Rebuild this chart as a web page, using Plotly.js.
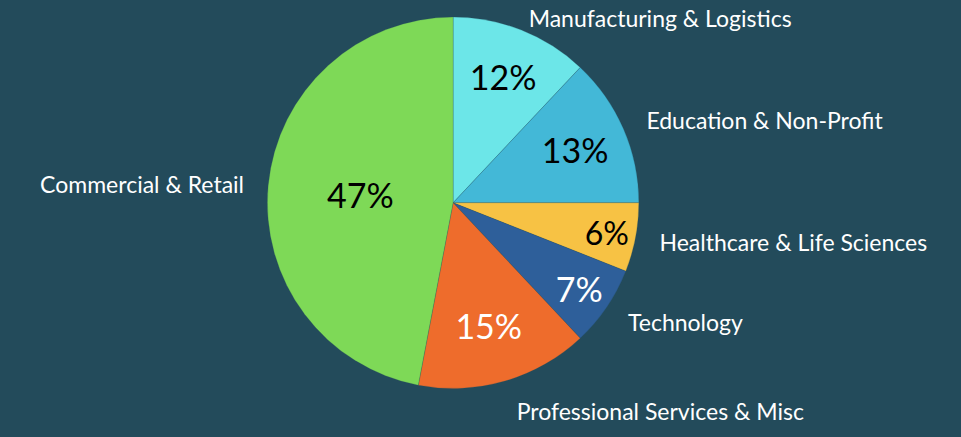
<!DOCTYPE html>
<html>
<head>
<meta charset="utf-8">
<script src="https://cdn.plot.ly/plotly-3.0.1.min.js"></script>
<style>html,body{margin:0;padding:0;background:#234B5B;}#chart{width:961px;height:437px;}</style>
</head>
<body>
<div id="chart"></div>
<script>
const categories = ["Manufacturing & Logistics", "Education & Non-Profit", "Healthcare & Life Sciences", "Technology", "Professional Services & Misc", "Commercial & Retail"];
const shares = [12, 13, 6, 7, 15, 47];
const sliceColors = ["#6CE6E8", "#43B8D7", "#F7C244", "#2E5F9A", "#EE6C2C", "#7ED957"];
const pctTextColors = ["#000000", "#000000", "#000000", "#FFFFFF", "#FFFFFF", "#000000"];
const labelPull = [0, 0.09, 0.09, 0.09, 0.09, 0.09];

const pctTrace = {
  type: "pie", labels: categories, values: shares, sort: false,
  direction: "clockwise", rotation: 0,
  domain: {x: [0.159, 0.784], y: [0.111, 0.961]},
  marker: {colors: sliceColors, line: {color: "rgba(35,75,92,0.35)", width: 0.6}},
  textinfo: "percent", textposition: "inside", insidetextorientation: "horizontal",
  texttemplate: "%{percent:.0%}",
  textfont: {family: "Lato, sans-serif", size: 34, color: pctTextColors},
  hoverinfo: "label+percent", showlegend: false
};
const labelTrace = {
  type: "pie", labels: categories, values: shares, sort: false,
  direction: "clockwise", rotation: 0, pull: labelPull,
  domain: {x: [0.1, 0.843], y: [0.071, 1]},
  marker: {colors: categories.map(() => "rgba(0,0,0,0)"), line: {width: 0}},
  textinfo: "label", textposition: "outside",
  textfont: {family: "Lato, sans-serif", size: 23, color: "#FFFFFF"},
  hoverinfo: "skip", showlegend: false
};
const layout = {
  width: 961, height: 437,
  paper_bgcolor: "#234B5B", plot_bgcolor: "#234B5B",
  margin: {l: 0, r: 0, t: 0, b: 0, autoexpand: false},
  showlegend: false
};
Plotly.newPlot("chart", [pctTrace, labelTrace], layout, {displayModeBar: false, staticPlot: true});
</script>
</body>
</html>
